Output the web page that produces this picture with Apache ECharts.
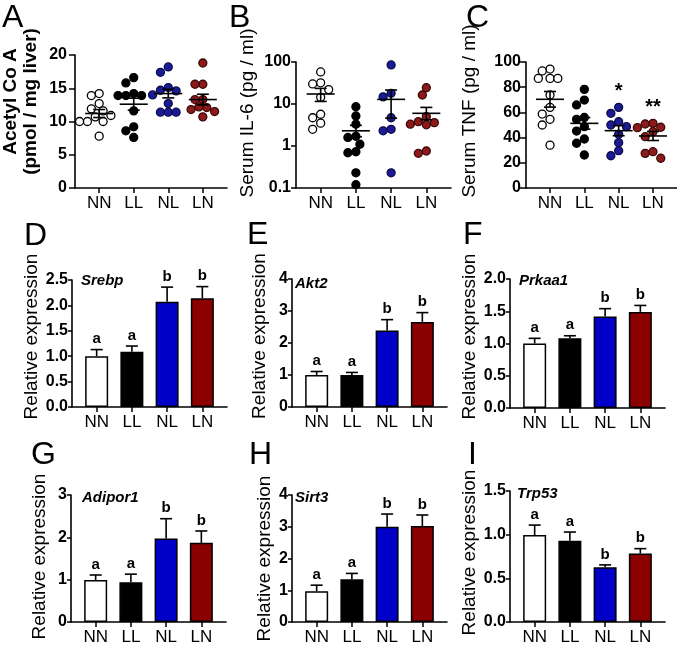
<!DOCTYPE html>
<html><head><meta charset="utf-8">
<script src="https://cdn.jsdelivr.net/npm/echarts@6/dist/echarts.min.js"></script>
<style>html,body{margin:0;padding:0;background:#fff}#c{width:677px;height:646px}</style>
</head><body><div id="c"></div>
<script>
// ---------- DATA ----------
const groups = ['NN', 'LL', 'NL', 'LN'];

// A: Acetyl Co A (pmol / mg liver)
const acetylNN = [14.2, 13.9, 12.7, 11.9, 11.6, 10.9, 10.7, 10.0, 10.0, 10.0, 7.8];
const acetylLL = [16.6, 15.8, 14.2, 13.9, 13.9, 13.9, 11.6, 9.2, 8.6, 7.6];
const acetylNL = [18.2, 17.4, 15.1, 14.7, 14.6, 14.0, 12.7, 11.4, 11.4, 11.4];
const acetylLN = [18.8, 15.6, 15.6, 13.3, 13.3, 12.2, 12.1, 11.8, 11.5, 10.7];
const acetylMean = [11.2, 12.6, 14.2, 13.3];
const acetylSem = [0.6, 0.9, 0.65, 0.8];

// B: Serum IL-6 (pg / ml), log scale
const il6NN = [58, 30, 32, 22, 14.4, 5.7, 4.7, 3.5, 2.5];
const il6LL = [8.6, 5.2, 3.3, 1.6, 1.7, 1.1, 0.69, 0.73, 0.23, 0.12];
const il6NL = [85, 18, 14.8, 4.7, 2.5, 2.3, 0.23];
const il6LN = [24.4, 16.4, 5.0, 3.8, 3.3, 3.2, 3.6, 0.67, 0.76];
const il6Mean = [17.3, 2.3, 12.9, 6.0];
const il6Lo = [11.5, 1.66, 4.6, 4.2];
const il6Hi = [23.5, 3.1, 21.5, 8.3];

// C: Serum TNF (pg / ml)
const tnfNN = [92.9, 94.4, 87, 87, 87, 73.8, 64, 58.7, 54.5, 50, 34];
const tnfLL = [78.3, 69.8, 65.9, 56, 54.5, 48.7, 45.2, 38.9, 35.5, 26.2];
const tnfNL = [64, 59.3, 52.6, 50, 48.7, 42.6, 36, 29.6, 25.6];
const tnfLN = [51.3, 50.8, 48.2, 47.9, 44.7, 40.7, 28.8, 27.5, 23.6];
const tnfMean = [70.4, 51.3, 45.5, 41.3];
const tnfSem = [6.2, 4.6, 4.0, 3.6];
const tnfSig = ['', '', '*', '**'];

// D-I: relative expression (mean, SEM)
const geneNames = ['Srebp', 'Akt2', 'Prkaa1', 'Adipor1', 'Sirt3', 'Trp53'];
const srebpMean = [1.0, 1.09, 2.07, 2.14];    const srebpSem = [0.13, 0.11, 0.29, 0.23];
const akt2Mean = [1.0, 1.0, 2.39, 2.66];      const akt2Sem = [0.11, 0.08, 0.34, 0.29];
const prkaa1Mean = [1.0, 1.08, 1.42, 1.49];   const prkaa1Sem = [0.08, 0.04, 0.12, 0.10];
const adipor1Mean = [0.99, 0.94, 1.97, 1.87]; const adipor1Sem = [0.12, 0.19, 0.47, 0.28];
const sirt3Mean = [0.97, 1.35, 3.0, 3.02];    const sirt3Sem = [0.19, 0.18, 0.4, 0.35];
const trp53Mean = [0.995, 0.93, 0.628, 0.785]; const trp53Sem = [0.115, 0.10, 0.026, 0.055];
const geneLetters = [
  ['a', 'a', 'b', 'b'], ['a', 'a', 'b', 'b'], ['a', 'a', 'b', 'b'],
  ['a', 'a', 'b', 'b'], ['a', 'a', 'b', 'b'], ['a', 'a', 'b', 'b']
];

// ---------- STYLE / LAYOUT ----------
const FONT = 'Liberation Sans, Arial, Helvetica, sans-serif';
const W = 155;
const XMIN = -0.7, XMAX = 3.7;
const PXX = W / (XMAX - XMIN);
const layout = [
  { left: 72, top: 55, h: 133 },   // A
  { left: 296, top: 62, h: 126 },  // B
  { left: 526, top: 62, h: 126 },  // C
  { left: 72, top: 280, h: 127 },  // D
  { left: 292, top: 279, h: 128 }, // E
  { left: 510, top: 279, h: 129 }, // F
  { left: 71, top: 495, h: 127 },  // G
  { left: 292, top: 495, h: 127 }, // H
  { left: 510, top: 491, h: 131 }  // I
];
const dotFill = ['#ffffff', '#000000', '#1b1b96', '#8c1a1a'];
const dotEdge = ['#000000', '#000000', '#0b0b4a', '#3d0808'];
const barFill = ['#ffffff', '#000000', '#0000c8', '#8b0000'];

const yDefs = [
  { type: 'value', min: 0, max: 20, interval: 5, name: 'Acetyl Co A\n(pmol / mg liver)', bold: true, gap: 34, pad: 40, tick: 6, margin: 8 },
  { type: 'log', min: 0.1, max: 100, name: 'Serum IL-6 (pg / ml)', gap: 38, pad: 24, tick: 5, margin: 5 },
  { type: 'value', min: 0, max: 100, interval: 20, name: 'Serum TNF (pg / ml)', gap: 46, pad: 28, tick: 6, margin: 5 },
  { type: 'value', min: 0, max: 2.5, interval: 0.5, dec: 1, name: 'Relative expression', gap: 30, pad: 14, tick: 4, margin: 4 },
  { type: 'value', min: 0, max: 4, interval: 1, name: 'Relative expression', gap: 22, pad: 14, tick: 4, margin: 4 },
  { type: 'value', min: 0, max: 2, interval: 0.5, dec: 1, name: 'Relative expression', gap: 28, pad: 14, tick: 4, margin: 4 },
  { type: 'value', min: 0, max: 3, interval: 1, name: 'Relative expression', gap: 21, pad: 4, tick: 4, margin: 4 },
  { type: 'value', min: 0, max: 4, interval: 1, name: 'Relative expression', gap: 17, pad: 0, tick: 4, margin: 4 },
  { type: 'value', min: 0, max: 1.5, interval: 0.5, dec: 1, name: 'Relative expression', gap: 27, pad: 8, tick: 4, margin: 4 }
];

const axisLine = { show: true, onZero: false, lineStyle: { color: '#000', width: 1.6 } };

const grids = layout.map(g => ({ left: g.left, top: g.top, width: W, height: g.h }));
const xAxes = layout.map((g, i) => ({
  gridIndex: i, type: 'value', min: XMIN, max: XMAX,
  axisLine: axisLine,
  axisTick: { show: true, customValues: [0, 1, 2, 3], length: 5, lineStyle: { color: '#000', width: 1.5 } },
  axisLabel: { customValues: [0, 1, 2, 3], formatter: v => groups[Math.round(v)], color: '#000', fontSize: 17, fontFamily: FONT, margin: 7 },
  splitLine: { show: false }
}));
const yAxes = yDefs.map((d, i) => {
  const a = {
    gridIndex: i, type: d.type, min: d.min, max: d.max,
    axisLine: axisLine,
    axisTick: { show: true, length: d.tick, lineStyle: { color: '#000', width: 1.5 } },
    axisLabel: { color: '#000', fontSize: 16, fontWeight: 'bold', fontFamily: FONT, margin: d.margin,
      formatter: v => d.dec ? Number(v).toFixed(d.dec) : String(v) },
    splitLine: { show: false },
    name: d.name, nameLocation: 'middle', nameGap: d.gap, nameRotate: 90,
    nameTextStyle: { color: '#000', fontSize: 19, fontWeight: d.bold ? 'bold' : 'normal', fontFamily: FONT,
      lineHeight: 20, padding: [0, 0, 0, d.pad] }
  };
  if (d.type === 'log') a.logBase = 10; else a.interval = d.interval;
  return a;
});

// vertical pixel position from value, used only to keep dots from overlapping
function yPx(i, v) {
  const d = yDefs[i], H = layout[i].h;
  if (d.type === 'log') return (Math.log10(v) - Math.log10(d.min)) / (Math.log10(d.max) - Math.log10(d.min)) * H;
  return (v - d.min) / (d.max - d.min) * H;
}
function swarm(vals, panel, center) {
  const placed = [], res = [], dd = 8;
  const order = vals.map((v, i) => i).sort((a, b) => vals[b] - vals[a]);
  const ks = [0, -0.5, 0.5, -1, 1, -1.5, 1.5, -2, 2, -2.5, 2.5, -3, 3];
  for (const i of order) {
    const py = yPx(panel, vals[i]);
    for (const k of ks) {
      const px = k * dd;
      if (placed.every(p => Math.hypot(p[0] - px, p[1] - py) >= dd)) {
        placed.push([px, py]); res.push([center + px / PXX, vals[i]]); break;
      }
    }
  }
  return res;
}

const series = [];
const dotPanels = [
  [acetylNN, acetylLL, acetylNL, acetylLN],
  [il6NN, il6LL, il6NL, il6LN],
  [tnfNN, tnfLL, tnfNL, tnfLN]
];
dotPanels.forEach((sets, p) => {
  sets.forEach((vals, g) => {
    series.push({
      type: 'scatter', xAxisIndex: p, yAxisIndex: p, symbol: 'circle', symbolSize: 8,
      itemStyle: { color: dotFill[g], borderColor: dotEdge[g], borderWidth: 1.3, opacity: 1 },
      data: swarm(vals, p, g), z: 2, silent: true
    });
  });
});

function meanSemRender(params, api) {
  const x = api.value(0);
  const pm = api.coord([x, api.value(1)]);
  const pl = api.coord([x, api.value(2)]);
  const ph = api.coord([x, api.value(3)]);
  const st = { stroke: '#000', lineWidth: 1.6 };
  const ch = [
    { type: 'line', shape: { x1: pm[0] - 14, y1: pm[1], x2: pm[0] + 14, y2: pm[1] }, style: st },
    { type: 'line', shape: { x1: pl[0], y1: pl[1], x2: ph[0], y2: ph[1] }, style: st },
    { type: 'line', shape: { x1: pl[0] - 6, y1: pl[1], x2: pl[0] + 6, y2: pl[1] }, style: st },
    { type: 'line', shape: { x1: ph[0] - 6, y1: ph[1], x2: ph[0] + 6, y2: ph[1] }, style: st }
  ];
  const sig = meanSigs[params.seriesIndex - meanFirst][params.dataIndex];
  if (sig) {
    const ps = api.coord([x, api.value(4)]);
    ch.push({ type: 'text', style: { text: sig, x: ps[0], y: ps[1] - 6, align: 'center', verticalAlign: 'bottom',
      fill: '#000', font: 'bold 20px ' + FONT } });
  }
  return { type: 'group', children: ch };
}
const meanSigs = [['', '', '', ''], ['', '', '', ''], tnfSig];
const meanSets = [
  groups.map((g, i) => [i, acetylMean[i], acetylMean[i] - acetylSem[i], acetylMean[i] + acetylSem[i], acetylMean[i]]),
  groups.map((g, i) => [i, il6Mean[i], il6Lo[i], il6Hi[i], il6Mean[i]]),
  groups.map((g, i) => [i, tnfMean[i], tnfMean[i] - tnfSem[i], tnfMean[i] + tnfSem[i], Math.max(...dotPanels[2][i])])
];
const meanFirst = series.length;
meanSets.forEach((data, p) => {
  series.push({ type: 'custom', xAxisIndex: p, yAxisIndex: p, renderItem: meanSemRender,
    encode: { x: 0, y: [1, 2, 3] }, data: data, z: 5, silent: true });
});

const barMeans = [srebpMean, akt2Mean, prkaa1Mean, adipor1Mean, sirt3Mean, trp53Mean];
const barSems = [srebpSem, akt2Sem, prkaa1Sem, adipor1Sem, sirt3Sem, trp53Sem];
barMeans.forEach((m, k) => {
  const p = k + 3;
  series.push({
    type: 'bar', xAxisIndex: p, yAxisIndex: p, barWidth: 23, silent: true,
    data: m.map((v, i) => ({ value: [i, v], itemStyle: { color: barFill[i] } })),
    itemStyle: { borderColor: '#000', borderWidth: 1.5 }, z: 2
  });
});
const errFirst = series.length;
function errRender(params, api) {
  const x = api.value(0);
  const p0 = api.coord([x, api.value(1)]);
  const p1 = api.coord([x, api.value(2)]);
  const st = { stroke: '#000', lineWidth: 1.6 };
  return { type: 'group', children: [
    { type: 'line', shape: { x1: p0[0], y1: p0[1], x2: p1[0], y2: p1[1] }, style: st },
    { type: 'line', shape: { x1: p1[0] - 6, y1: p1[1], x2: p1[0] + 6, y2: p1[1] }, style: st },
    { type: 'text', style: { text: geneLetters[params.seriesIndex - errFirst][params.dataIndex], x: p1[0], y: p1[1] - 3,
      align: 'center', verticalAlign: 'bottom', fill: '#000', font: 'bold 15px ' + FONT } }
  ] };
}
barMeans.forEach((m, k) => {
  const p = k + 3;
  series.push({
    type: 'custom', xAxisIndex: p, yAxisIndex: p, renderItem: errRender, silent: true,
    encode: { x: 0, y: [1, 2] }, z: 3,
    data: m.map((v, i) => [i, v, v + barSems[k][i]])
  });
});

const letters = ['A', 'B', 'C', 'D', 'E', 'F', 'G', 'H', 'I'];
const letterPos = [[2, 2], [229, 2], [466, 2], [24, 220], [247, 219], [463, 219], [31, 439], [249, 439], [468, 439]];
const genePos = [[81, 273], [295, 276], [519, 273], [82, 490], [295, 490], [517, 486]];
const titles = letters.map((t, i) => ({ text: t, left: letterPos[i][0], top: letterPos[i][1], padding: 0,
  textStyle: { fontSize: 32, fontWeight: 'normal', color: '#000', fontFamily: FONT } }))
  .concat(geneNames.map((t, i) => ({ text: t, left: genePos[i][0], top: genePos[i][1], padding: 0,
  textStyle: { fontSize: 15, fontWeight: 'bold', fontStyle: 'italic', color: '#000', fontFamily: FONT } })));

const chart = echarts.init(document.getElementById('c'), null, { renderer: 'canvas' });
chart.setOption({
  animation: false, backgroundColor: '#fff',
  title: titles, grid: grids, xAxis: xAxes, yAxis: yAxes, series: series
});
</script></body></html>
